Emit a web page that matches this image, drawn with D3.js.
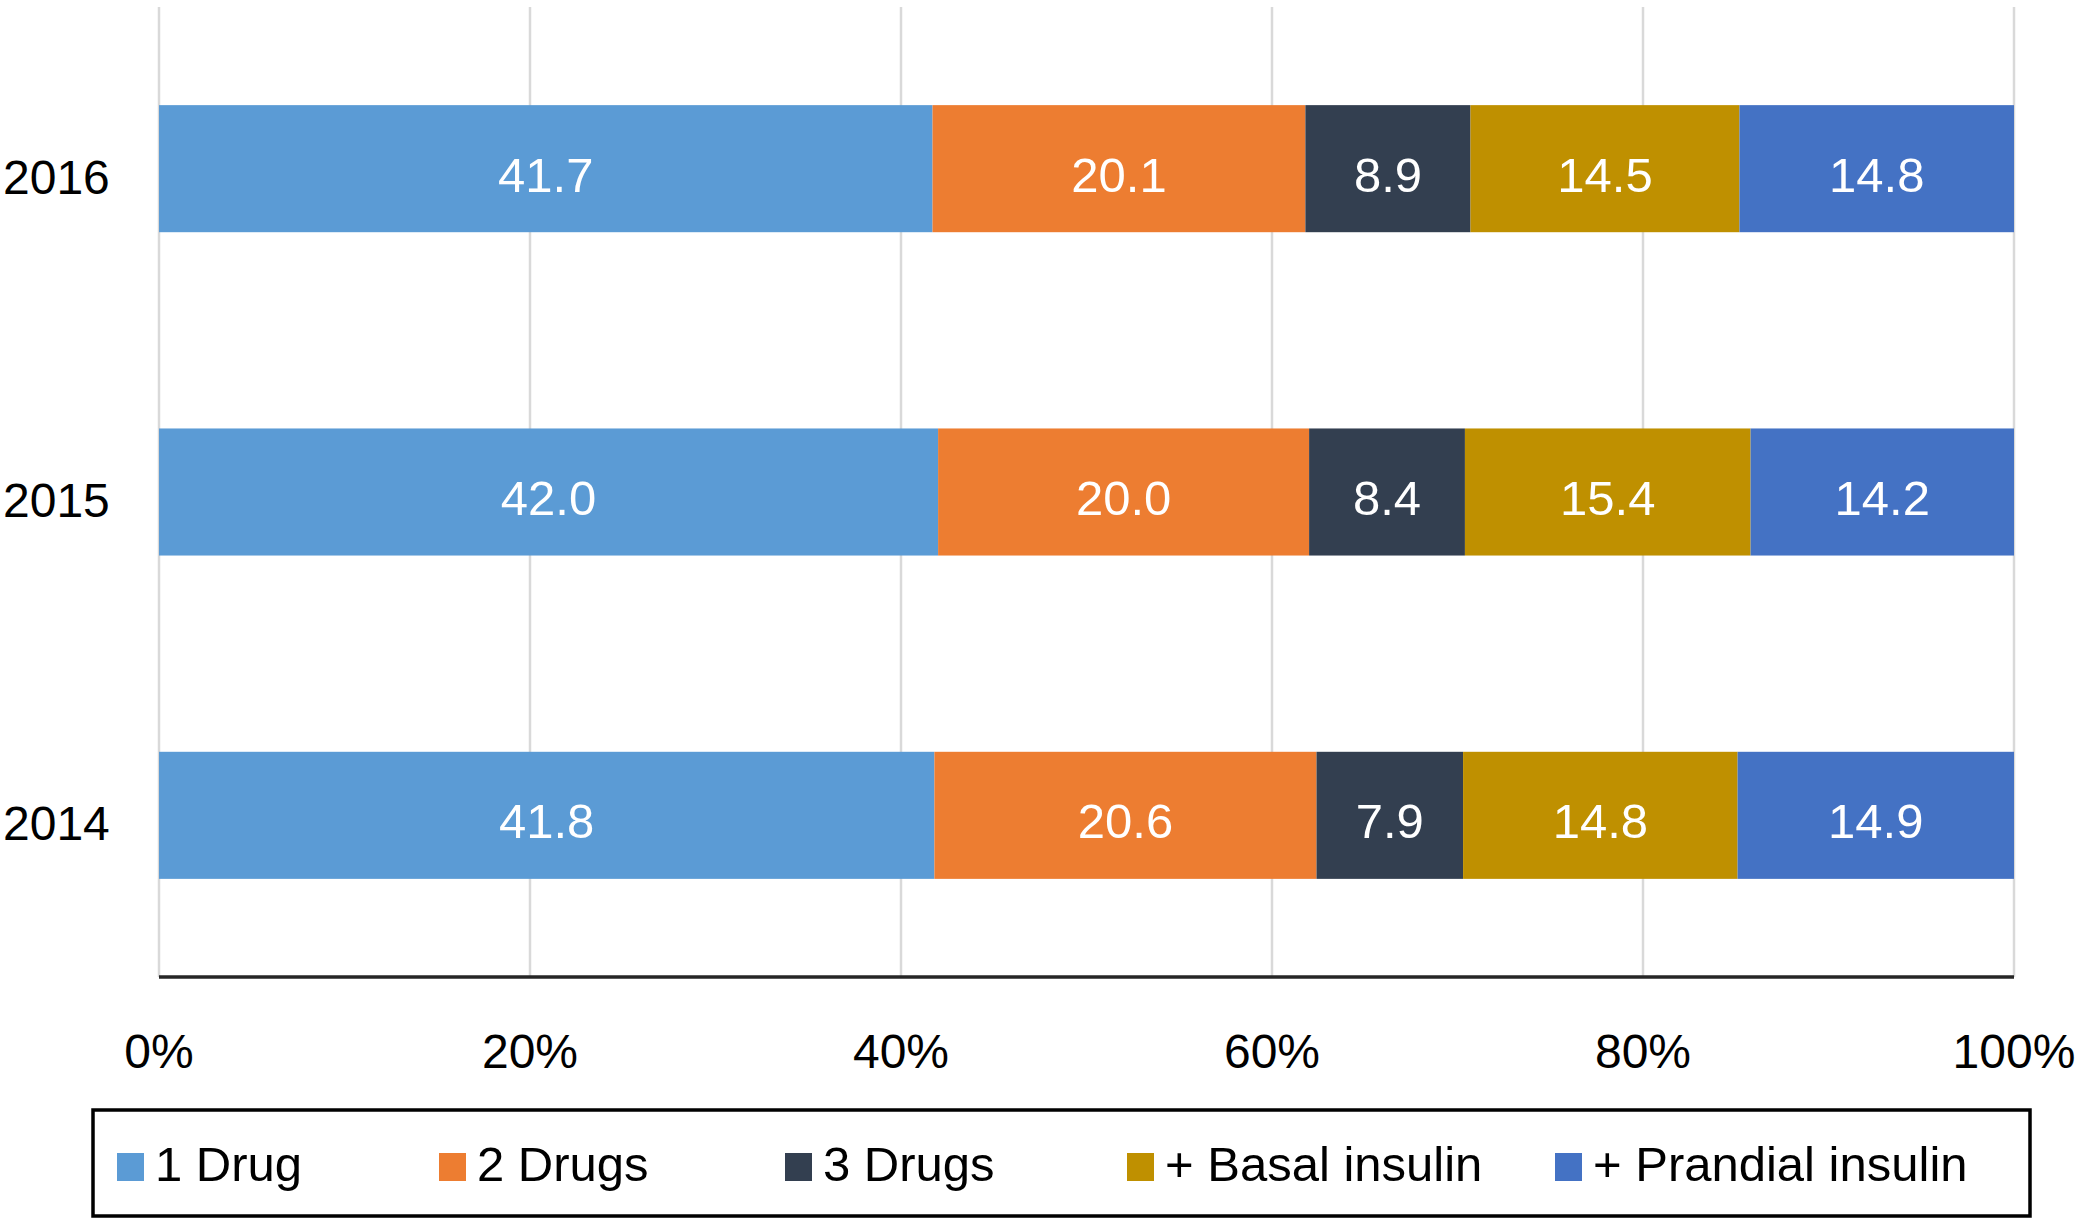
<!DOCTYPE html>
<html>
<head>
<meta charset="utf-8">
<script src="https://cdn.jsdelivr.net/npm/d3@7"></script>
<style>
  body { margin: 0; background: #fff; }
  svg { display: block; font-family: "Liberation Sans", Arial, sans-serif; }
</style>
</head>
<body>
<svg id="chart" width="2079" height="1219"></svg>
<script>
const years = ['2016', '2015', '2014'];
const seriesNames = ['1 Drug', '2 Drugs', '3 Drugs', '+ Basal insulin', '+ Prandial insulin'];
const colors = ['#5b9bd5', '#ed7d31', '#333f50', '#bf9000', '#4472c4'];
const oneDrug = [41.7, 42.0, 41.8];
const twoDrugs = [20.1, 20.0, 20.6];
const threeDrugs = [8.9, 8.4, 7.9];
const basal = [14.5, 15.4, 14.8];
const prandial = [14.8, 14.2, 14.9];
const xTicks = [0, 20, 40, 60, 80, 100];

const table = years.map((y, i) => ({
  year: y,
  '1 Drug': oneDrug[i],
  '2 Drugs': twoDrugs[i],
  '3 Drugs': threeDrugs[i],
  '+ Basal insulin': basal[i],
  '+ Prandial insulin': prandial[i],
}));

const svg = d3.select('#chart');
const plotLeft = 159, plotRight = 2014, plotTop = 7, plotBottom = 977;

const x = d3.scaleLinear().domain([0, 100]).range([plotLeft, plotRight]);
const y = d3.scaleBand().domain(years).range([plotTop, plotBottom]).paddingInner(0.607).paddingOuter(0.3035);
const color = d3.scaleOrdinal().domain(seriesNames).range(colors);

// gridlines
svg.append('g')
  .selectAll('line')
  .data(xTicks)
  .join('line')
  .attr('x1', d => x(d)).attr('x2', d => x(d))
  .attr('y1', plotTop).attr('y2', plotBottom)
  .attr('stroke', '#d9d9d9')
  .attr('stroke-width', 2.5);

const stacked = d3.stack().keys(seriesNames)(table);

const layer = svg.append('g')
  .selectAll('g')
  .data(stacked)
  .join('g')
  .attr('fill', d => color(d.key));

layer.selectAll('rect')
  .data(d => d)
  .join('rect')
  .attr('x', d => x(d[0]))
  .attr('width', d => x(d[1]) - x(d[0]))
  .attr('y', d => y(d.data.year))
  .attr('height', y.bandwidth());

// value labels
layer.selectAll('text')
  .data(d => d.map(v => ({ v, key: d.key })))
  .join('text')
  .attr('x', d => (x(d.v[0]) + x(d.v[1])) / 2)
  .attr('y', d => y(d.v.data.year) + y.bandwidth() / 2 + 23)
  .attr('text-anchor', 'middle')
  .attr('fill', '#fff')
  .attr('font-size', 49)
  .text(d => d.v.data[d.key].toFixed(1));

// axis baseline
svg.append('line')
  .attr('x1', plotLeft).attr('x2', plotRight)
  .attr('y1', plotBottom).attr('y2', plotBottom)
  .attr('stroke', '#262626')
  .attr('stroke-width', 3.5);

// x tick labels
svg.append('g')
  .selectAll('text')
  .data(xTicks)
  .join('text')
  .attr('x', d => x(d))
  .attr('y', 1068)
  .attr('text-anchor', 'middle')
  .attr('font-size', 48)
  .attr('fill', '#000')
  .text(d => d + '%');

// year labels
svg.append('g')
  .selectAll('text')
  .data(years)
  .join('text')
  .attr('x', 3)
  .attr('y', d => y(d) + y.bandwidth() / 2 + 25)
  .attr('text-anchor', 'start')
  .attr('font-size', 48)
  .attr('fill', '#000')
  .text(d => d);

// legend
const legend = svg.append('g');
legend.append('rect')
  .attr('x', 93).attr('y', 1110)
  .attr('width', 1937).attr('height', 106)
  .attr('fill', 'none')
  .attr('stroke', '#000')
  .attr('stroke-width', 3.5);

const legendX = [117, 439, 785, 1127, 1555];
const item = legend.selectAll('g')
  .data(seriesNames)
  .join('g')
  .attr('transform', (d, i) => `translate(${legendX[i]},1153)`);

item.append('rect')
  .attr('width', 27).attr('height', 28)
  .attr('fill', d => color(d));

item.append('text')
  .attr('x', 38)
  .attr('y', 28)
  .attr('font-size', 49)
  .attr('fill', '#000')
  .text(d => d);
</script>
</body>
</html>
